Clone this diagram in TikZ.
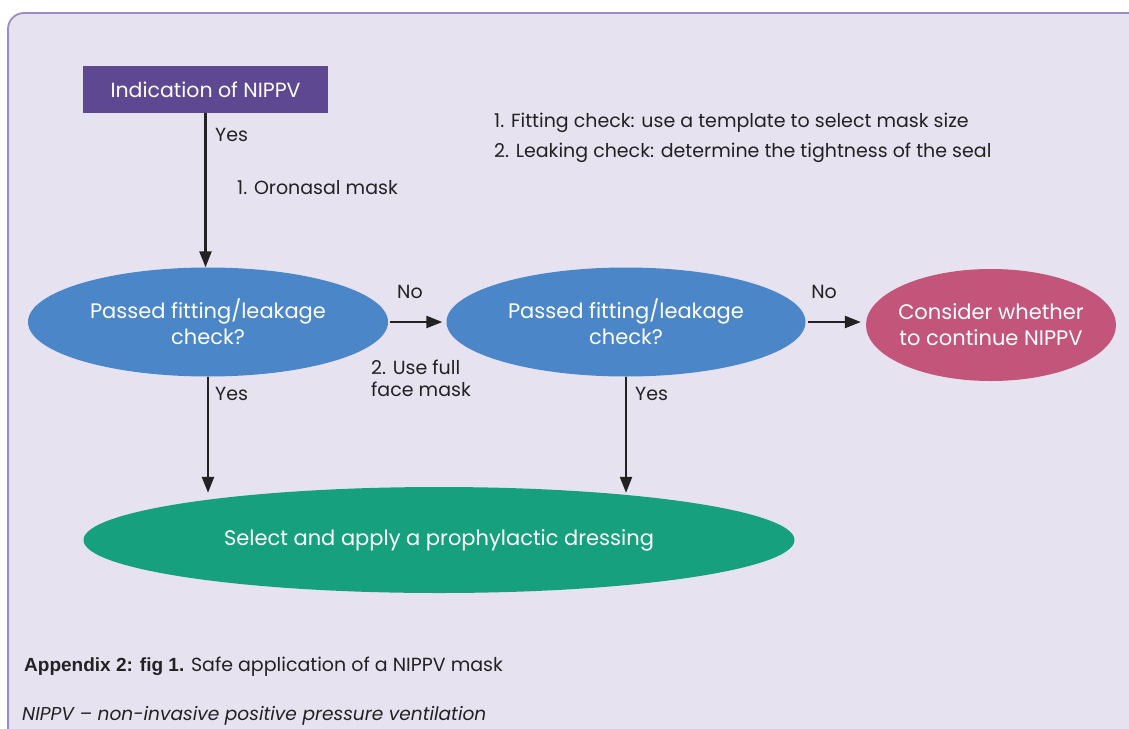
\documentclass[tikz,border=0pt]{standalone}
\usepackage{fontspec}
\setmainfont{Poppins}
\newfontfamily\capfont{Liberation Sans}
\usetikzlibrary{positioning, shapes.geometric, arrows.meta, calc}
\definecolor{panelbg}{HTML}{E6E2EF}
\definecolor{panelline}{HTML}{9A8BC6}
\definecolor{startpurple}{HTML}{5E4891}
\definecolor{checkblue}{HTML}{4A86C8}
\definecolor{stoppink}{HTML}{C4557A}
\definecolor{dressgreen}{HTML}{17A07E}
\definecolor{ink}{HTML}{222222}
\tikzset{
    flow/.style={-{Triangle[length=16pt,width=12pt]}, line width=2.3pt, draw=ink},
    bubble/.style={ellipse, draw=none, text=white, align=center, inner sep=0pt,
        font=\fontsize{21}{26}\selectfont},
    lbl/.style={font=\fontsize{19}{22}\selectfont, text=ink, inner sep=0pt, anchor=base west}
}

\begin{document}
\begin{tikzpicture}[x=1pt, y=-1pt]
    \useasboundingbox (0,0) rectangle (1129,728);
    \fill[white] (0,0) rectangle (1129,728);
    % panel behind the chart
    \draw[panelline, line width=1.8pt, fill=panelbg]
        (1140,740) -- (8,740) -- (8,29) arc[start angle=180, end angle=270, radius=16] -- (1140,13);

    \node[rectangle, fill=startpurple, text=white, minimum width=245pt, minimum height=47pt,
        font=\fontsize{20.5}{24}\selectfont] (start) at (205.5,89.5) {Indication of NIPPV};
    \node[bubble, fill=checkblue, minimum width=360pt, minimum height=109pt] (fit1) at (208,322)
        {Passed fitting/leakage\\check?};
    \node[bubble, fill=checkblue, minimum width=359pt, minimum height=109pt] (fit2) at (626,322)
        {Passed fitting/leakage\\check?};
    \node[bubble, fill=stoppink, inner xsep=-22pt, minimum width=250pt, minimum height=112pt] (stop) at (991,325)
        {Consider whether\\to continue NIPPV};
    \node[bubble, fill=dressgreen, minimum width=711pt, minimum height=106pt] (dress) at (439,540)
        {Select and apply a prophylactic dressing};

    \coordinate (land1) at ($(fit1.south |- dress.north)+(0,6)$);
    \coordinate (land2) at ($(fit2.south |- dress.north)+(0,6)$);

    \draw[flow] (start.south) -- (start.south |- fit1.north);
    \draw[flow, shorten <=2pt, shorten >=4pt] (fit1) -- (fit2);
    \draw[flow, shorten <=2pt, shorten >=5pt] (fit2.east) -- (fit2.east -| stop.west);
    \draw[flow] (fit1.south) -- (land1);
    \draw[flow] (fit2.south) -- (land2);

    % branch labels
    \node[lbl] (yes0) at (215,141) {Yes};
    \node[lbl] (oro) at (237,194) {1. Oronasal mask};
    \node[lbl] (note1) at (494,127) {1. Fitting check: use a template to select mask size};
    \node[lbl] (note2) at (494,157) {2. Leaking check: determine the tightness of the seal};
    \node[lbl, anchor=base] (no1) at (410,298) {No};
    \node[lbl, align=left, anchor=north west] (full) at (371,360) {2. Use full\\face mask};
    \node[lbl] (yes1) at (215,400) {Yes};
    \node[lbl] (yes2) at (635,400) {Yes};
    \node[lbl, anchor=base] (no2) at (824,298) {No};

    % caption
    \node[anchor=base west, inner sep=0pt, font=\fontsize{19}{24}\selectfont, text=ink] (cap) at (24,671)
        {{\capfont\bfseries Appendix 2: fig 1.} Safe application of a NIPPV mask};
    \node[anchor=base west, inner sep=0pt, font=\fontsize{18.6}{24}\selectfont\itshape, text=ink] (abbr) at (22,720)
        {NIPPV -- non-invasive positive pressure ventilation};
\end{tikzpicture}
\end{document}
